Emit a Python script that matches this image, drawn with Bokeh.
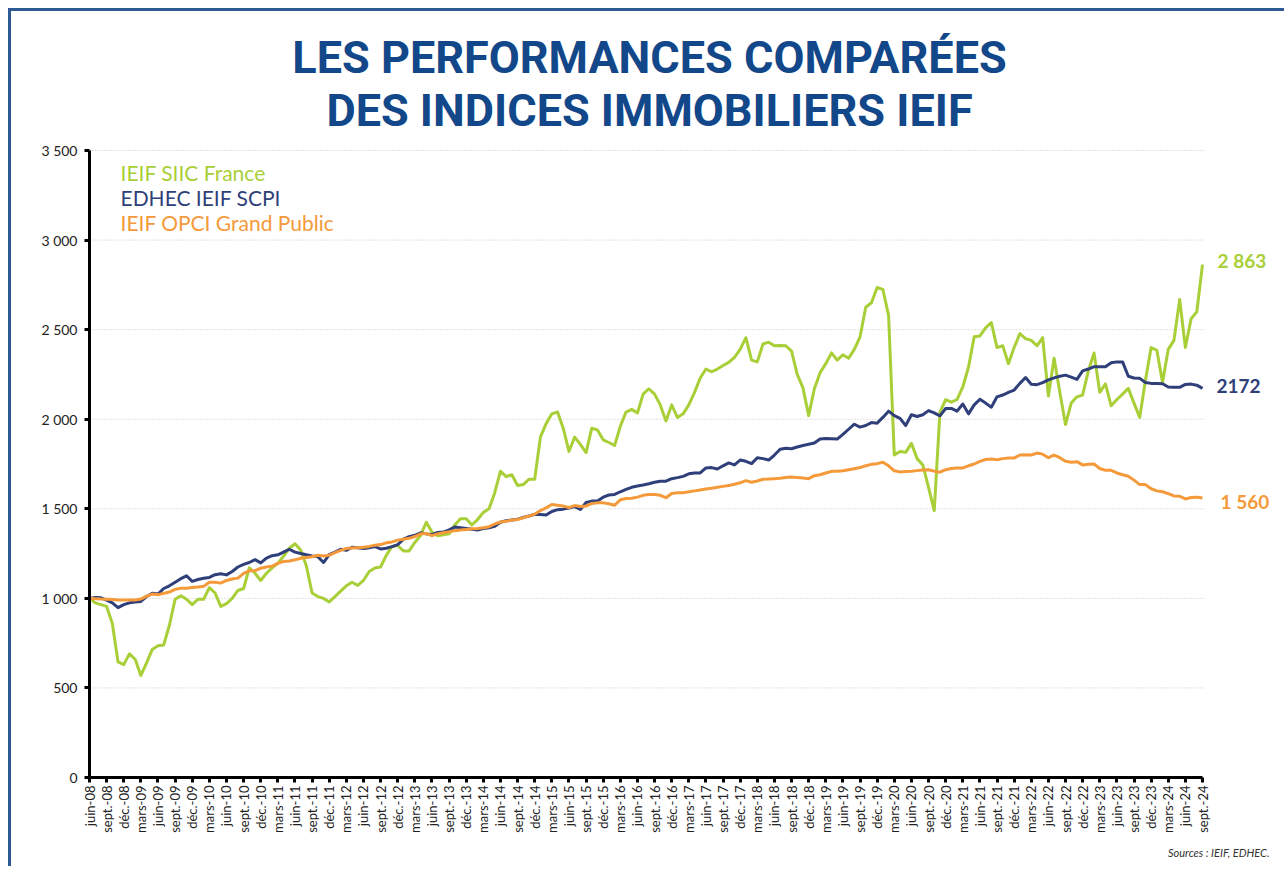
from bokeh.plotting import figure
from bokeh.models import Range1d, FixedTicker, Label, Title
from bokeh.embed import file_html
from bokeh.resources import INLINE
import math

# Quarter tick labels (every 3 months, juin-08 .. sept-24)
tick_labels = []
months = ["mars", "juin", "sept.", "déc."]
for yr in range(8, 25):
    for q, mname in enumerate(months):
        if yr == 8 and q < 1:
            continue
        if yr == 24 and q > 2:
            continue
        tick_labels.append(f"{mname}-{yr:02d}")

# Monthly index values, juin 2008 = 1000
siic_france = [
    1000, 975, 965, 955, 860, 645, 630, 690, 660, 570, 640, 715,
    735, 740, 850, 995, 1015, 995, 965, 995, 995, 1060, 1030, 955,
    970, 1000, 1044, 1055, 1170, 1140, 1100, 1140, 1170, 1195, 1235, 1280,
    1305, 1270, 1180, 1030, 1010, 1000, 980, 1010, 1040, 1070, 1090, 1072,
    1100, 1150, 1170, 1175, 1240, 1290, 1295, 1265, 1265, 1312, 1350, 1425,
    1370, 1350, 1355, 1360, 1410, 1445, 1445, 1410, 1440, 1480, 1500, 1590,
    1710, 1680, 1690, 1630, 1635, 1665, 1665, 1900, 1975, 2030, 2040, 1950,
    1820, 1900, 1860, 1814, 1950, 1940, 1885, 1870, 1853, 1960, 2040, 2055,
    2035, 2140, 2170, 2140, 2080, 1990, 2080, 2010, 2030, 2080, 2150, 2230,
    2280, 2265, 2280, 2300, 2317, 2345, 2390, 2455, 2330, 2320, 2420, 2430,
    2410, 2412, 2410, 2380, 2250, 2175, 2020, 2170, 2260, 2310, 2370, 2330,
    2360, 2340, 2390, 2460, 2625, 2650, 2735, 2725, 2580, 1800, 1820, 1815,
    1865, 1780, 1745, 1620, 1490, 2040, 2110, 2095, 2110, 2180, 2290, 2460,
    2465, 2510, 2540, 2400, 2410, 2310, 2400, 2478, 2450, 2440, 2410, 2455,
    2130, 2340, 2150, 1970, 2090, 2125, 2135, 2270, 2370, 2150, 2197, 2075,
    2110, 2140, 2172, 2090, 2010, 2216, 2400, 2385, 2205, 2390, 2440, 2669,
    2400, 2560, 2600, 2863,
]
edhec_scpi = [
    1000, 1005, 1003, 990, 975, 948, 965, 975, 980, 983, 1010, 1028,
    1024, 1055, 1070, 1090, 1110, 1126, 1095, 1105, 1112, 1117, 1132, 1137,
    1131, 1150, 1175, 1190, 1200, 1216, 1198, 1225, 1238, 1243, 1258, 1274,
    1258, 1250, 1243, 1237, 1233, 1200, 1244, 1258, 1274, 1268, 1285, 1283,
    1278, 1283, 1289, 1276, 1280, 1289, 1300, 1330, 1344, 1352, 1366, 1360,
    1356, 1368, 1370, 1382, 1398, 1394, 1390, 1386, 1382, 1390, 1394, 1402,
    1425, 1433, 1438, 1442, 1452, 1460, 1469, 1468, 1465, 1485, 1495, 1498,
    1504, 1512, 1496, 1535, 1543, 1543, 1565, 1577, 1580, 1595, 1608, 1620,
    1627, 1633, 1640, 1648, 1654, 1654, 1668, 1674, 1681, 1695, 1700, 1700,
    1728, 1730, 1722, 1740, 1756, 1745, 1772, 1765, 1752, 1785, 1780, 1772,
    1800, 1832, 1838, 1835, 1845, 1853, 1860, 1867, 1890, 1893, 1891, 1889,
    1915, 1944, 1972, 1956, 1965, 1981, 1978, 2010, 2045, 2020, 2005, 1965,
    2025, 2015, 2025, 2048, 2035, 2019, 2060, 2060, 2045, 2085, 2030, 2080,
    2111, 2090, 2067, 2125, 2135, 2150, 2163, 2200, 2233, 2195, 2193, 2204,
    2220, 2231, 2240, 2246, 2235, 2222, 2270, 2280, 2293, 2293, 2293, 2315,
    2320, 2320, 2240, 2230, 2228, 2205, 2200, 2200, 2198, 2180, 2178, 2178,
    2194, 2196, 2190, 2172,
]
opci_gp = [
    1000, 998, 996, 995, 993, 991, 991, 991, 991, 996, 1012, 1024,
    1020, 1028, 1035, 1050, 1056, 1057, 1060, 1063, 1067, 1090, 1090, 1085,
    1100, 1108, 1113, 1140, 1154, 1155, 1168, 1175, 1180, 1195, 1206, 1209,
    1215, 1224, 1228, 1232, 1241, 1237, 1240, 1255, 1268, 1278, 1281, 1283,
    1285, 1290, 1297, 1300, 1310, 1315, 1325, 1330, 1335, 1345, 1360, 1362,
    1350, 1360, 1367, 1372, 1378, 1382, 1385, 1388, 1390, 1394, 1400, 1415,
    1426, 1430, 1437, 1440, 1450, 1460, 1470, 1490, 1505, 1524, 1520, 1515,
    1507, 1518, 1513, 1515, 1530, 1533, 1533, 1528, 1520, 1550, 1557, 1559,
    1565, 1575, 1580, 1580, 1575, 1562, 1585, 1589, 1590, 1595, 1600, 1605,
    1610, 1615, 1620, 1625, 1630, 1637, 1645, 1657, 1648, 1655, 1665, 1666,
    1668, 1670, 1675, 1678, 1674, 1672, 1668, 1685, 1690, 1700, 1709, 1710,
    1712, 1718, 1724, 1730, 1740, 1748, 1752, 1760, 1740, 1712, 1706, 1708,
    1710, 1713, 1716, 1718, 1710, 1704, 1718, 1725, 1727, 1728, 1740, 1750,
    1765, 1775, 1778, 1774, 1780, 1783, 1783, 1800, 1802, 1800, 1811, 1805,
    1785, 1800, 1785, 1765, 1760, 1763, 1745, 1748, 1750, 1725, 1715, 1715,
    1700, 1690, 1682, 1660, 1635, 1635, 1612, 1600, 1595, 1585, 1572, 1570,
    1555, 1563, 1565, 1560,
]
series_names = ["IEIF SIIC France", "EDHEC IEIF SCPI", "IEIF OPCI Grand Public"]
end_labels = ["2 863", "2172", "1 560"]
y_ticks = [0, 500, 1000, 1500, 2000, 2500, 3000, 3500]
y_tick_labels = ["0", "500", "1 000", "1 500", "2 000", "2 500", "3 000", "3 500"]
title_lines = ["LES PERFORMANCES COMPARÉES", "DES INDICES IMMOBILIERS IEIF"]

GREEN = "#a9cf38"
NAVY = "#2f3f7a"
ORANGE = "#f59a3a"
TITLE = "#12478a"
FONT = "Lato"

# page geometry: canvas origin at page (11, 11) (8px margin + 3px border)
W, H = 1276, 858
ORG = 11
FRAME_L, FRAME_B = 89, 777          # page px of data origin
PX_X = 1113 / 195                    # px per month
PX_Y = 627 / 3500                    # px per index point
x_end = (ORG + W - FRAME_L) / PX_X
y_end = (FRAME_B - ORG) / PX_Y

def dx(px):
    return (px - FRAME_L) / PX_X

def dy(py):
    return (FRAME_B - py) / PX_Y

p = figure(width=W, height=H, output_backend="svg", toolbar_location=None,
           x_range=Range1d(0, x_end), y_range=Range1d(0, y_end),
           min_border_left=FRAME_L - ORG, min_border_right=0, min_border_top=0,
           min_border_bottom=ORG + H - FRAME_B, outline_line_color=None)
p.styles = {"margin-left": "8px", "margin-top": "8px",
            "border-top": "3px solid #2d5a93", "border-left": "3px solid #2d5a93"}

# dotted horizontal gridlines limited to the data area
grid_vals = y_ticks[1:]
p.segment(x0=[0] * len(grid_vals), y0=grid_vals, x1=[195.5] * len(grid_vals), y1=grid_vals,
          line_color="#c4c4c4", line_width=1, line_dash="1 2")

xs = list(range(len(siic_france)))
for data, col in zip([siic_france, edhec_scpi, opci_gp], [GREEN, NAVY, ORANGE]):
    p.line(xs, data, line_color=col, line_width=3, line_join="round")

# axes
q_ticks = list(range(0, 196, 3))
p.xaxis.ticker = FixedTicker(ticks=q_ticks)
p.xaxis.major_label_overrides = {t: lab for t, lab in zip(q_ticks, tick_labels)}
p.xaxis.major_label_orientation = math.pi / 2
p.xaxis.bounds = (0, 195)
p.yaxis.ticker = FixedTicker(ticks=y_ticks)
p.yaxis.major_label_overrides = {t: lab for t, lab in zip(y_ticks, y_tick_labels)}
p.yaxis.bounds = (0, 3500)
for ax in (p.xaxis[0], p.yaxis[0]):
    ax.minor_tick_line_color = None
    ax.axis_line_color = "black"
    ax.axis_line_width = 3
    ax.major_tick_line_color = "black"
    ax.major_tick_line_width = 3
    ax.major_tick_out = 5
    ax.major_tick_in = 0
    ax.major_label_text_font = FONT
    ax.major_label_text_color = "#222222"
p.xaxis.major_label_text_font_size = "13px"
p.yaxis.major_label_text_font_size = "14px"
p.xaxis.major_label_standoff = 3
p.yaxis.major_label_standoff = 7

p.xgrid.grid_line_color = None
p.ygrid.grid_line_color = None

# title
for txt, py in zip(title_lines, [57, 110]):
    p.add_layout(Label(x=dx(649), y=dy(py), text=txt,
                       text_align="center", text_baseline="middle",
                       text_font="Roboto", text_font_style="bold",
                       text_font_size="45px", text_color=TITLE))

# legend texts
for name, col, py in zip(series_names, [GREEN, NAVY, ORANGE], [172, 197, 222]):
    p.add_layout(Label(x=dx(120), y=dy(py), text=name,
                       text_align="left", text_baseline="middle",
                       text_font=FONT, text_font_size="21px", text_color=col))

# end value labels
for lab, col, data, xoff, yoff in zip(end_labels, [GREEN, NAVY, ORANGE],
                                      [siic_france, edhec_scpi, opci_gp],
                                      [15, 14, 18], [4, 2, -3]):
    p.add_layout(Label(x=len(data) - 1, y=data[-1], x_offset=xoff, y_offset=yoff,
                       text=lab, text_align="left", text_baseline="middle",
                       text_font=FONT, text_font_style="bold",
                       text_font_size="19px", text_color=col))

p.add_layout(Title(text="Sources : IEIF, EDHEC.", align="right", text_font=FONT,
                   text_font_style="italic", text_font_size="11px",
                   text_color="#333333", offset=18, standoff=16), "below")

open("out.html", "w").write(file_html(p, INLINE))
